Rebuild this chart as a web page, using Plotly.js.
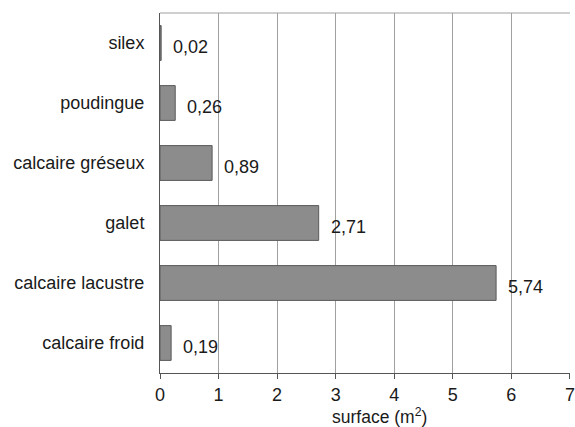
<!DOCTYPE html>
<html><head><meta charset="utf-8">
<script src="https://cdn.plot.ly/plotly-3.0.1.min.js"></script>
<style>body{margin:0;background:#fff}#c{width:575px;height:427px}</style>
</head><body><div id="c"></div>
<script>
var categories = ["calcaire froid","calcaire lacustre","galet","calcaire gréseux","poudingue","silex"];
var values = [0.19, 5.74, 2.71, 0.89, 0.26, 0.02];
var valueLabels = ["0,19","5,74","2,71","0,89","0,26","0,02"];
var xTicks = [0,1,2,3,4,5,6,7];
var xTitle = "surface (m<sup>2</sup>)";

var fam = "Liberation Sans, Arial, sans-serif";
var font = {family: fam, size: 18, color: "#1a1a1a"};
var trace = {
  type: "bar", orientation: "h",
  y: categories, x: values,
  marker: {color: "#8c8c8c", line: {color: "#5a5a5a", width: 1}},
  hoverinfo: "none"
};
var annotations = values.map(function(v, i){
  return {x: v, y: categories[i], xref: "x", yref: "y", text: valueLabels[i],
    showarrow: false, xanchor: "left", yanchor: "middle", xshift: 10, yshift: -4,
    font: {family: fam, size: 18, color: "#1a1a1a"}};
});
annotations.push({x: 0.5, y: 0, xref: "paper", yref: "paper", text: xTitle,
  showarrow: false, xanchor: "center", yanchor: "top", xshift: 14, yshift: -30,
  font: {family: fam, size: 17.5, color: "#1a1a1a"}});
var layout = {
  width: 575, height: 427,
  margin: {l: 160, r: 5, t: 13, b: 54},
  paper_bgcolor: "#fff", plot_bgcolor: "#fff",
  font: font, showlegend: false, bargap: 0.42,
  annotations: annotations,
  xaxis: {
    range: [0, 7.002], tickvals: xTicks, ticktext: xTicks.map(String),
    showgrid: true, gridcolor: "#a0a0a0", gridwidth: 1,
    showline: true, linecolor: "#555", linewidth: 1,
    ticks: "outside", ticklen: 5, tickcolor: "#555",
    ticklabeloverflow: "allow",
    tickfont: {family: fam, size: 18, color: "#1a1a1a"},
    zeroline: false, fixedrange: true
  },
  yaxis: {
    showline: true, linecolor: "#555", linewidth: 1,
    ticks: "", ticklabelstandoff: 11, automargin: false, fixedrange: true,
    tickfont: {family: fam, size: 18, color: "#1a1a1a"}
  },
  shapes: [{type: "line", xref: "paper", yref: "paper", x0: 0, x1: 1, y0: 1, y1: 1, line: {color: "#a0a0a0", width: 1}}]
};
Plotly.newPlot("c", [trace], layout, {displayModeBar: false, staticPlot: true});
</script></body></html>
